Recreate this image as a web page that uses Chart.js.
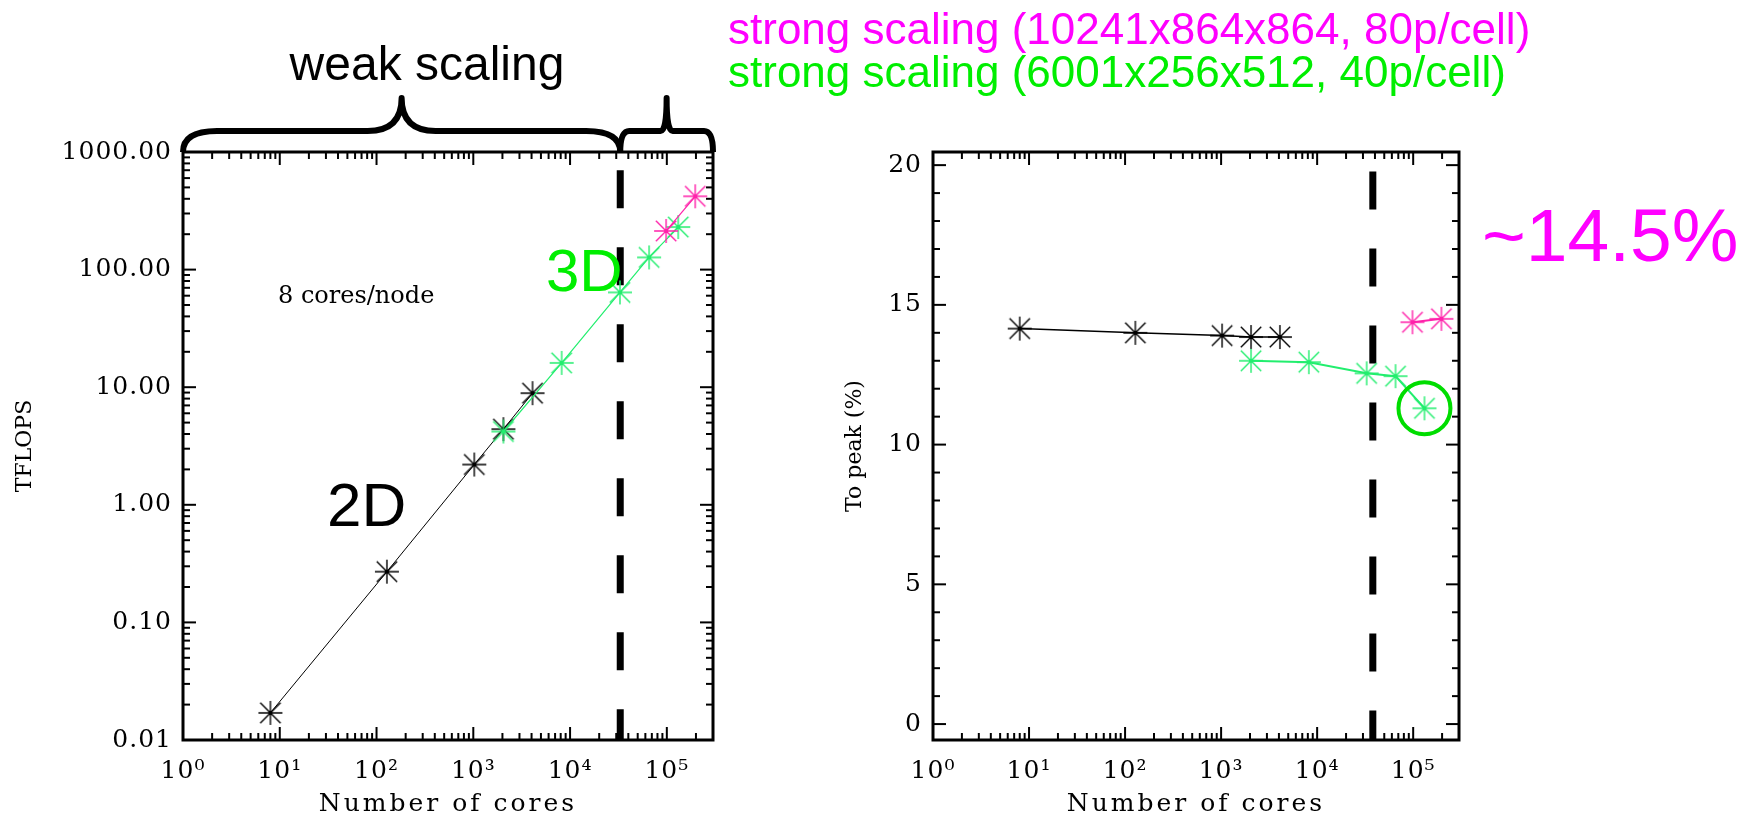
<!DOCTYPE html>
<html><head><meta charset="utf-8">
<script src="https://cdn.jsdelivr.net/npm/chart.js@4.4.1/dist/chart.umd.min.js"></script>
<style>
html,body{margin:0;padding:0;background:#fff;}
#wrap{position:relative;width:1744px;height:819px;overflow:hidden;background:#fff;}
canvas{position:absolute;top:0;}
#c1{left:0;} #c2{left:800px;}
.ann{position:absolute;white-space:nowrap;line-height:1;font-family:'Liberation Sans',Arial,sans-serif;z-index:2;}
</style></head><body>
<div id="wrap">
<canvas id="c1" width="800" height="819"></canvas>
<canvas id="c2" width="944" height="819"></canvas>
<div class="ann" style="left:427px;top:40px;font-size:48px;color:#000;transform:translateX(-50%)">weak scaling</div>
<div class="ann" style="left:728px;top:7px;font-size:44px;color:#ff00ff;">strong scaling (10241x864x864, 80p/cell)</div>
<div class="ann" style="left:728px;top:50px;font-size:44px;color:#00ee00;">strong scaling (6001x256x512, 40p/cell)</div>
<div class="ann" style="left:546px;top:241px;font-size:60px;color:#00ee00;">3D</div>
<div class="ann" style="left:327px;top:474px;font-size:62px;color:#000;">2D</div>
<div class="ann" style="left:278px;top:283px;font-size:24px;color:#000;font-family:'DejaVu Serif',serif;">8 cores/node</div>
<div class="ann" style="left:1482px;top:198px;font-size:75px;color:#ff00ff;">~14.5%</div>
</div>
<script>
// ---- data ----
const cores2D   = [8, 128, 1024, 2048, 4096];
const tflops2D  = [0.017, 0.27, 2.2, 4.4, 8.9];
const peak2D    = [14.15, 14.0, 13.9, 13.85, 13.85];
const cores3D   = [2048, 8192, 32768, 65536, 131072];
const tflops3D  = [4.2, 16.1, 64, 127, 230];
const peak3D    = [13.0, 12.95, 12.55, 12.45, 11.3];
const coresBig  = [98304, 196608];
const tflopsBig = [213, 420];
const peakBig   = [14.38, 14.5];
const highlightCores = [131072];
const highlightPeak  = [11.3];
const dividerCoresLeft  = [33000, 33000];
const dividerTflops     = [700, 0.01];
const dividerCoresRight = [38000, 38000];
const dividerPeak       = [19.77, -0.57];
const xDecades    = [1, 10, 100, 1000, 10000, 100000];
const xTickLabels = ['10\u2070', '10\u00b9', '10\u00b2', '10\u00b3', '10\u2074', '10\u2075'];
const yLeftTicks  = [0.01, 0.1, 1, 10, 100, 1000];
const yLeftLabels = ['0.01', '0.10', '1.00', '10.00', '100.00', '1000.00'];
const yRightTicks  = [0, 5, 10, 15, 20];
const yRightLabels = ['0', '5', '10', '15', '20'];

const BLACK = '#000000', GREEN = '#22ee6e', PINK = '#ff22aa', RING = '#00dd00';
const SERIF = "'DejaVu Serif', serif";

function pts(xs, ys) { return xs.map((x, i) => ({x: x, y: ys[i]})); }

function makeStar(color, r) {
  const s = Math.ceil(2 * r + 4);
  const c = document.createElement('canvas'); c.width = s; c.height = s;
  const g = c.getContext('2d'); g.strokeStyle = color; g.fillStyle = color; g.lineWidth = 1.4;
  const m = s / 2, d = r * 0.85;
  g.beginPath();
  g.moveTo(m, m - r); g.lineTo(m, m + r);
  g.moveTo(m - r, m); g.lineTo(m + r, m);
  g.moveTo(m - d, m - d); g.lineTo(m + d, m + d);
  g.moveTo(m - d, m + d); g.lineTo(m + d, m - d);
  g.stroke();
  g.beginPath(); g.arc(m, m, 2, 0, Math.PI * 2); g.fill();
  return c;
}
const starBlack = makeStar(BLACK, 12), starGreen = makeStar(GREEN, 12), starPink = makeStar(PINK, 12);

function logMinors(min, max) {
  const out = [];
  for (let e = Math.floor(Math.log10(min)); e <= Math.ceil(Math.log10(max)); e++) {
    for (let k = 1; k < 10; k++) {
      const v = k * Math.pow(10, e);
      if (v >= min * 0.9999 && v <= max * 1.0001) out.push({v: v, major: k === 1});
    }
  }
  return out;
}
function linMinors(min, max, step, majorStep) {
  const out = [];
  for (let v = Math.ceil(min / step) * step; v <= max + 1e-9; v += step) {
    out.push({v: v, major: Math.abs(v / majorStep - Math.round(v / majorStep)) < 1e-6});
  }
  return out;
}

const framePlugin = {
  id: 'frame',
  beforeDatasetsDraw(chart) {
    const {ctx, chartArea: a, scales: {x, y}} = chart;
    ctx.save();
    ctx.strokeStyle = '#000'; ctx.lineWidth = 2;
    const seg = (x1, y1, x2, y2) => { ctx.beginPath(); ctx.moveTo(x1, y1); ctx.lineTo(x2, y2); ctx.stroke(); };
    logMinors(x.min, x.max).forEach(t => {
      const p = x.getPixelForValue(t.v), L = t.major ? 13 : 7;
      seg(p, a.bottom, p, a.bottom - L); seg(p, a.top, p, a.top + L);
    });
    const yt = y.type === 'logarithmic' ? logMinors(y.min, y.max) : linMinors(y.min, y.max, 1, 5);
    yt.forEach(t => {
      const p = y.getPixelForValue(t.v), L = t.major ? 13 : 7;
      seg(a.left, p, a.left + L, p); seg(a.right, p, a.right - L, p);
    });
    ctx.lineWidth = 3;
    ctx.strokeRect(a.left, a.top, a.right - a.left, a.bottom - a.top);
    ctx.restore();
  }
};

// horizontal text in the original is slightly wider: add letter spacing to x titles and tick labels
const spacingPlugin = {
  id: 'textSpacing',
  beforeDraw(chart) {
    Object.values(chart.scales).forEach(s => {
      if (s._spPatched) return;
      const origT = s.drawTitle, origL = s.drawLabels;
      const titleSp = s.isHorizontal() ? '3px' : '0px';
      s.drawTitle = function () { const c = this.ctx; c.save(); c.letterSpacing = titleSp; origT.call(this); c.restore(); };
      s.drawLabels = function (area) { const c = this.ctx; c.save(); c.letterSpacing = '1px'; origL.call(this, area); c.restore(); };
      s._spPatched = true;
    });
  }
};

function drawBrace(ctx, xL, xR, yB, yBar, yTip, r, r2) {
  const xm = (xL + xR) / 2;
  ctx.beginPath();
  ctx.moveTo(xL, yB);
  ctx.quadraticCurveTo(xL, yBar, xL + r, yBar);
  ctx.lineTo(xm - r2, yBar);
  ctx.quadraticCurveTo(xm, yBar, xm, yTip);
  ctx.quadraticCurveTo(xm, yBar, xm + r2, yBar);
  ctx.lineTo(xR - r, yBar);
  ctx.quadraticCurveTo(xR, yBar, xR, yB);
  ctx.stroke();
}
const bracePlugin = {
  id: 'braces',
  afterDraw(chart) {
    const {ctx, chartArea: a, scales: {x}} = chart;
    const xDiv = x.getPixelForValue(dividerCoresLeft[0]);
    ctx.save();
    ctx.strokeStyle = '#000'; ctx.lineWidth = 6; ctx.lineJoin = 'round'; ctx.lineCap = 'butt';
    drawBrace(ctx, a.left, xDiv, a.top, a.top - 21, a.top - 54, 34, 34);
    drawBrace(ctx, xDiv, a.right, a.top, a.top - 21, a.top - 54, 9, 6);
    ctx.restore();
  }
};

function xAxis() {
  return {
    type: 'logarithmic', min: 1, max: 300000, position: 'bottom',
    grid: {display: false, drawTicks: false}, border: {display: false},
    ticks: {padding: 16, autoSkip: false, maxRotation: 0, minRotation: 0, color: '#000',
            font: {family: SERIF, size: 25}, callback: (v, i) => xTickLabels[i]},
    afterBuildTicks: s => { s.ticks = xDecades.map(v => ({value: v})); },
    afterFit: s => { s.height = 79; },
    title: {display: true, text: 'Number of cores', color: '#000', font: {family: SERIF, size: 25}, padding: {top: 0, bottom: 0}}
  };
}

const common = {
  responsive: false, animation: false, devicePixelRatio: 1, events: [],
  plugins: {legend: {display: false}, tooltip: {enabled: false}}
};

// ---- left chart ----
new Chart(document.getElementById('c1'), {
  type: 'scatter',
  data: {datasets: [
    {label: 'strong 10241x864x864', data: pts(coresBig, tflopsBig), showLine: true, borderColor: PINK, borderWidth: 1.2, pointStyle: starPink, pointRadius: 12},
    {label: 'strong 6001x256x512', data: pts(cores3D, tflops3D), showLine: true, borderColor: GREEN, borderWidth: 1.2, pointStyle: starGreen, pointRadius: 12},
    {label: 'weak 2D', data: pts(cores2D, tflops2D), showLine: true, borderColor: BLACK, borderWidth: 1, pointStyle: starBlack, pointRadius: 12},
    {label: 'divider', data: pts(dividerCoresLeft, dividerTflops), showLine: true, borderColor: BLACK, borderWidth: 7, borderDash: [38, 39], borderCapStyle: 'butt', pointRadius: 0, clip: false}
  ]},
  options: Object.assign({}, common, {
    layout: {padding: {top: 152, right: 87, bottom: 0, left: 0}},
    scales: {
      x: xAxis(),
      y: {
        type: 'logarithmic', min: 0.01, max: 1000,
        grid: {display: false, drawTicks: false}, border: {display: false},
        ticks: {padding: 11, autoSkip: false, color: '#000', font: {family: SERIF, size: 25}, callback: (v, i) => yLeftLabels[i]},
        afterBuildTicks: s => { s.ticks = yLeftTicks.map(v => ({value: v})); },
        afterFit: s => { s.width = 183; },
        title: {display: true, text: 'TFLOPS', color: '#000', font: {family: SERIF, size: 22}, padding: {top: 12, bottom: 0}}
      }
    }
  }),
  plugins: [framePlugin, bracePlugin, spacingPlugin]
});

// ---- right chart ----
new Chart(document.getElementById('c2'), {
  type: 'scatter',
  data: {datasets: [
    {label: 'highlight', data: pts(highlightCores, highlightPeak), showLine: false, pointStyle: 'circle', pointRadius: 26, pointBorderWidth: 4, pointBorderColor: RING, pointBackgroundColor: 'rgba(0,0,0,0)'},
    {label: 'strong 10241x864x864', data: pts(coresBig, peakBig), showLine: true, borderColor: PINK, borderWidth: 2, pointStyle: starPink, pointRadius: 12},
    {label: 'strong 6001x256x512', data: pts(cores3D, peak3D), showLine: true, borderColor: GREEN, borderWidth: 2, pointStyle: starGreen, pointRadius: 12},
    {label: 'weak 2D', data: pts(cores2D, peak2D), showLine: true, borderColor: BLACK, borderWidth: 1.5, pointStyle: starBlack, pointRadius: 12},
    {label: 'divider', data: pts(dividerCoresRight, dividerPeak), showLine: true, borderColor: BLACK, borderWidth: 7, borderDash: [38, 39], borderCapStyle: 'butt', pointRadius: 0, clip: false}
  ]},
  options: Object.assign({}, common, {
    layout: {padding: {top: 152, right: 285, bottom: 0, left: 0}},
    scales: {
      x: xAxis(),
      y: {
        type: 'linear', min: -0.57, max: 20.47,
        grid: {display: false, drawTicks: false}, border: {display: false},
        ticks: {padding: 11, autoSkip: false, color: '#000', font: {family: SERIF, size: 25}, callback: (v, i) => yRightLabels[i]},
        afterBuildTicks: s => { s.ticks = yRightTicks.map(v => ({value: v})); },
        afterFit: s => { s.width = 133; },
        title: {display: true, text: 'To peak (%)', color: '#000', font: {family: SERIF, size: 22}, padding: {top: 42, bottom: 0}}
      }
    }
  }),
  plugins: [framePlugin, spacingPlugin]
});
</script>
</body></html>
